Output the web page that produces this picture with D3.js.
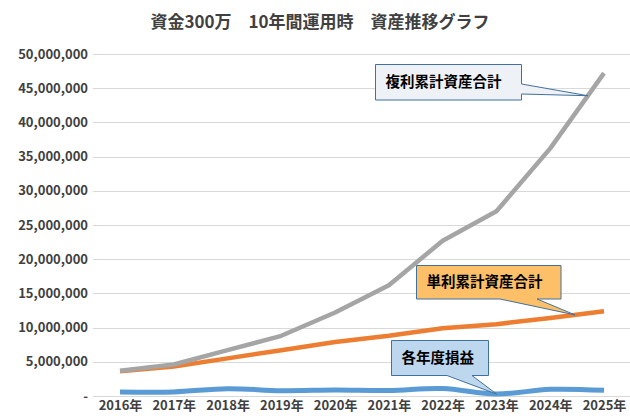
<!DOCTYPE html>
<html>
<head>
<meta charset="utf-8">
<script src="https://cdn.jsdelivr.net/npm/d3@7"></script>
<style>
  html, body { margin: 0; padding: 0; background: #fff; }
  svg { display: block; font-family: "Noto Sans CJK JP", "Noto Sans", sans-serif; }
</style>
</head>
<body>
<svg id="chart" width="630" height="420"></svg>
<script>
'use strict';

/* Data */
const years = ['2016年', '2017年', '2018年', '2019年', '2020年', '2021年', '2022年', '2023年', '2024年', '2025年'];
const compoundTotal = [3700000, 4600000, 6700000, 8800000, 12200000, 16200000, 22700000, 27000000, 36200000, 47200000];
const simpleTotal = [3600000, 4300000, 5500000, 6700000, 7900000, 8800000, 9900000, 10500000, 11400000, 12400000];
const yearlyProfit = [600000, 600000, 1070000, 780000, 880000, 820000, 1100000, 290000, 980000, 830000];
const yTicks = [0, 5000000, 10000000, 15000000, 20000000, 25000000, 30000000, 35000000, 40000000, 45000000, 50000000];

const W = 630, H = 420;
const plot = { left: 93, right: 630, top: 54, bottom: 396 };

const svg = d3.select('#chart');

const x = d3.scalePoint().domain(years).range([120, 604]);
const y = d3.scaleLinear().domain([0, 50000000]).range([plot.bottom, plot.top]);

/* Title */
svg.append('text')
    .attr('x', 320).attr('y', 28)
    .attr('text-anchor', 'middle')
    .attr('font-size', 17).attr('font-weight', 700)
    .attr('fill', '#404040')
    .text('資金300万　10年間運用時　資産推移グラフ');

/* Gridlines */
svg.append('g')
    .selectAll('line')
    .data(yTicks)
    .join('line')
    .attr('x1', plot.left).attr('x2', plot.right)
    .attr('y1', d => Math.round(y(d)) + 0.5).attr('y2', d => Math.round(y(d)) + 0.5)
    .attr('stroke', '#D9D9D9').attr('stroke-width', 1);

/* Y axis labels */
const fmt = d3.format(',');
const yAxis = d3.axisLeft(y).tickValues(yTicks).tickSize(0).tickPadding(0)
    .tickFormat(d => d === 0 ? '-' : fmt(d));
const gy = svg.append('g').attr('transform', 'translate(88,0)').call(yAxis);
gy.select('.domain').remove();
gy.selectAll('text')
    .attr('font-size', 13).attr('font-weight', 700)
    .attr('fill', '#404040')
    .attr('font-family', '"Noto Sans CJK JP", sans-serif');

/* X axis labels */
const xAxis = d3.axisBottom(x).tickSize(0).tickPadding(0);
const gx = svg.append('g').attr('transform', 'translate(0,401)').call(xAxis);
gx.select('.domain').remove();
gx.selectAll('text')
    .attr('font-size', 13).attr('font-weight', 700)
    .attr('fill', '#404040')
    .attr('font-family', '"Noto Sans CJK JP", sans-serif');

/* Lines */
function drawLine(values, color, width, curve) {
    const line = d3.line()
        .x((d, i) => x(years[i]))
        .y(d => y(d))
        .curve(curve);
    svg.append('path')
        .datum(values)
        .attr('d', line)
        .attr('fill', 'none')
        .attr('stroke', color)
        .attr('stroke-width', width)
        .attr('stroke-linejoin', 'round');
}
drawLine(yearlyProfit, '#5B9BD5', 5, d3.curveCatmullRom.alpha(0.5));
drawLine(simpleTotal, '#ED7D31', 4.5, d3.curveLinear);
drawLine(compoundTotal, '#A5A5A5', 4.5, d3.curveLinear);

/* Point on a series between index i and i+1 at fraction t */
function pointOn(values, i, t) {
    const x0 = x(years[i]), x1 = x(years[Math.min(i + 1, years.length - 1)]);
    const v0 = values[i], v1 = values[Math.min(i + 1, values.length - 1)];
    return [x0 + (x1 - x0) * t, y(v0 + (v1 - v0) * t)];
}

/* Callouts: box + wedge pointing at the series */
function callout(o) {
    const { bx, by, bw, bh, side, w0, w1, tip } = o;
    const r = bx + bw, b = by + bh;
    let pts;
    if (side === 'right') {
        pts = [[bx, by], [r, by], [r, w0], tip, [r, w1], [r, b], [bx, b]];
    } else {
        pts = [[bx, by], [r, by], [r, b], [w1, b], tip, [w0, b], [bx, b]];
    }
    svg.append('path')
        .attr('d', 'M' + pts.map(p => p.join(',')).join('L') + 'Z')
        .attr('fill', o.fill)
        .attr('stroke', '#41719C')
        .attr('stroke-width', 1);
    svg.append('text')
        .attr('x', bx + 10).attr('y', by + bh / 2)
        .attr('dy', '0.36em')
        .attr('font-size', 14.5).attr('font-weight', 700)
        .attr('fill', '#000')
        .text(o.label);
}

callout({
    label: '複利累計資産合計', fill: '#EEF1F5',
    bx: 375.5, by: 64.5, bw: 146, bh: 35.5,
    side: 'right', w0: 84, w1: 94,
    tip: pointOn(compoundTotal, 8, 0.7)
});
callout({
    label: '単利累計資産合計', fill: '#FDBF68',
    bx: 416.5, by: 265.5, bw: 144.5, bh: 33.5,
    side: 'bottom', w0: 500, w1: 537,
    tip: pointOn(simpleTotal, 8, 0.46)
});
callout({
    label: '各年度損益', fill: '#BDD7EE',
    bx: 391.5, by: 340.5, bw: 97, bh: 35,
    side: 'bottom', w0: 447, w1: 472,
    tip: pointOn(yearlyProfit, 7, 0)
});
</script>
</body>
</html>
